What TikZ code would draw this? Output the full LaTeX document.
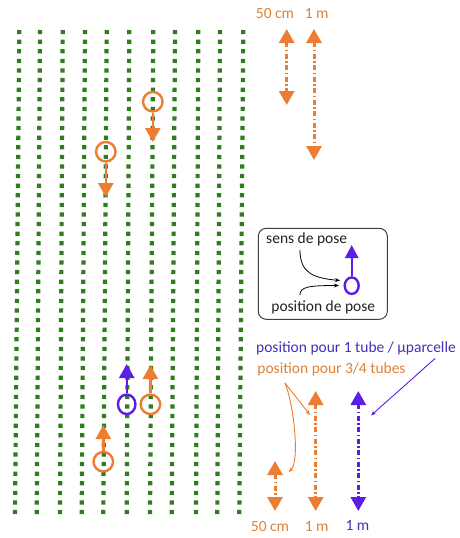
\documentclass[tikz,border=0pt]{standalone}
\usepackage{fontspec}
\setmainfont{Carlito}
\usetikzlibrary{arrows.meta,shapes.geometric}
\definecolor{rowgreen}{HTML}{2E7D1F}
\definecolor{oarr}{HTML}{ED7D31}
\definecolor{otext}{HTML}{E08236}
\definecolor{barr}{HTML}{5A1EE6}
\definecolor{btext}{HTML}{4B2DB5}
\definecolor{legtext}{HTML}{222222}
\newcommand{\lblfont}{\fontsize{15.5}{18}\selectfont}
\begin{document}
\begin{tikzpicture}[x=1pt,y=-1pt,
  row/.style={rowgreen, line width=4.2pt, dash pattern=on 4.2pt off 5.4pt},
  ocirc/.style={circle, draw=oarr, line width=2.4pt, minimum size=19.5pt, inner sep=0pt},
  bcirc/.style={ellipse, draw=barr, line width=2.4pt, minimum width=17.5pt, minimum height=19.5pt, inner sep=0pt},
  bigtip/.style={-{Triangle[width=15pt,length=14pt]}},
  poseo/.style={oarr, line width=2.4pt, bigtip},
  poseb/.style={barr, line width=2.4pt, bigtip},
  dimarr/.style={line width=3pt, dash pattern=on 5pt off 2.5pt on 1.5pt off 2.5pt,
     {Triangle[width=15pt,length=14pt]}-{Triangle[width=15pt,length=14pt]}},
  otxt/.style={text=otext, font=\lblfont, inner sep=0pt},
  btxt/.style={text=btext, font=\lblfont, inner sep=0pt},
  ltxt/.style={text=legtext, font=\lblfont, inner sep=0pt},
  thino/.style={oarr, line width=0.9pt, -{Stealth[length=5pt,width=4pt]}},
  thinb/.style={barr, line width=0.9pt, -{Stealth[length=5pt,width=4pt]}},
  think/.style={black, line width=0.8pt, -{Stealth[length=5pt,width=4pt]}}
]
\useasboundingbox (0,0) rectangle (460,538);
\fill[white] (0,0) rectangle (460,538);

% planting rows (slightly tilted)
\foreach \xt/\xb [count=\i] in {19.3/15, 40/36.7, 62.7/60, 85/81.7, 106.7/103.3, 129.3/126.7, 153.3/150, 175/171.7, 198.3/196, 220/217.3, 243.3/239.3}{
  \coordinate (rt\i) at (\xt,30);
  \coordinate (rb\i) at (\xb,515);
  \draw[row] (rt\i) -- (rb\i);
}

% laying positions (top, arrows downwards)
\node[ocirc] (c1) at (152.8,101.7) {};
\coordinate (c1t) at (152.8,142);
\draw[poseo] (c1.south) -- (c1t);
\node[ocirc] (c2) at (105.8,151.7) {};
\coordinate (c2t) at (105.8,197);
\draw[poseo] (c2.south) -- (c2t);

% laying positions (bottom, arrows upwards)
\node[bcirc] (c3) at (126.7,404.3) {};
\coordinate (c3t) at (126.7,364);
\draw[poseb] (c3.north) -- (c3t);
\node[ocirc] (c4) at (150.4,404.3) {};
\coordinate (c4t) at (150.4,365);
\draw[poseo] (c4.north) -- (c4t);
\node[ocirc] (c5) at (103.3,461.7) {};
\coordinate (c5t) at (103.3,425);
\draw[poseo] (c5.north) -- (c5t);

% top scale arrows
\node[otxt] (l50a) at (275,14) {50 cm};
\node[otxt] (l1a) at (316.7,14) {1 m};
\coordinate (d1a) at (286.7,29);
\coordinate (d1b) at (286.7,105);
\draw[dimarr, oarr] (d1a) -- (d1b);
\coordinate (d2a) at (314,29);
\coordinate (d2b) at (314,160);
\draw[dimarr, oarr] (d2a) -- (d2b);

% legend
\node[draw=black!75, rounded corners=8pt, line width=1pt, minimum width=129pt, minimum height=91pt] (legend) at (322.8,273.8) {};
\node[ltxt] (sens) at (306.7,239.3) {sens de pose};
\node[ltxt] (posit) at (323.3,307.3) {position de pose};
\node[bcirc, minimum width=14pt, minimum height=16.5pt, line width=2.4pt] (lc) at (351.7,285.7) {};
\coordinate (lct) at (351.7,245);
\draw[poseb, -{Triangle[width=13pt,length=13pt]}] (lc.north) -- (lct);
\coordinate (s0) at (300,250);
\coordinate (s1) at (340,280.5);
\draw[think] (s0) .. controls (300,272) and (312,278) .. (s1);
\coordinate (p0) at (300,295);
\coordinate (p1) at (339,285.5);
\draw[think] (p0) .. controls (300,287) and (308,285.5) .. (p1);

% bottom labels
\node[btxt] (t1) at (356,348.3) {position pour 1 tube / µparcelle};
\node[otxt] (t34) at (331.5,369.3) {position pour 3/4 tubes};

% bottom scale arrows
\coordinate (e1a) at (275,461);
\coordinate (e1b) at (275,511);
\draw[dimarr, oarr] (e1a) -- (e1b);
\coordinate (e2a) at (315.7,391);
\coordinate (e2b) at (315.7,511);
\draw[dimarr, oarr] (e2a) -- (e2b);
\coordinate (e3a) at (358.3,391);
\coordinate (e3b) at (358.3,511);
\draw[dimarr, barr] (e3a) -- (e3b);
\node[otxt] (l50b) at (270,527) {50 cm};
\node[otxt] (l1b) at (316.7,527) {1 m};
\node[btxt] (l1c) at (357.5,526) {1 m};

% pointer arrows
\coordinate (o0) at (285,383);
\coordinate (o1) at (310,415);
\coordinate (o2) at (288.5,472);
\draw[thino] (o0) -- (o1);
\draw[thino] (o0) .. controls (294,405) and (300,462) .. (o2);
\coordinate (b0) at (435,358.5);
\coordinate (b1) at (371,415.5);
\draw[thinb] (b0) -- (b1);
\end{tikzpicture}
\end{document}
